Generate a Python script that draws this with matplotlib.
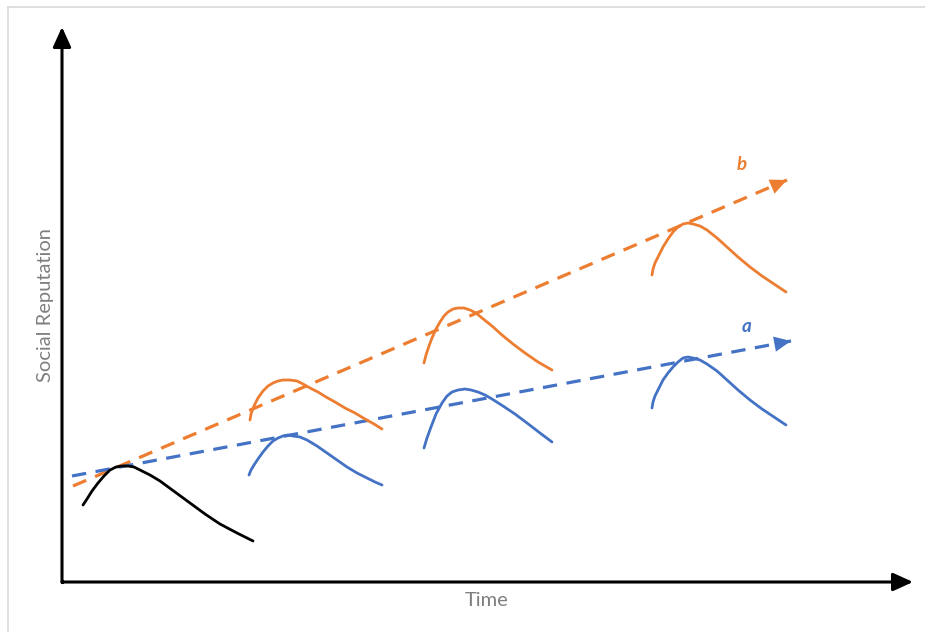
import matplotlib
matplotlib.use("Agg")
import matplotlib.pyplot as plt
from matplotlib.lines import Line2D

# Coordinate system: time to the right, reputation upward (origin = axis corner)
ORIGIN_PX = (62, 582)

def t(px):
    return [p - ORIGIN_PX[0] for p in px]

def r(py):
    return [ORIGIN_PX[1] - p for p in py]

# Initial (black) reputation curve
black_time = t([83, 87, 92, 98, 104, 110, 116, 122, 128, 134, 140, 150, 160, 175, 190, 205, 220, 237, 253])
black_rep = r([505, 499, 491, 483, 476, 470, 467, 466, 466, 467, 470, 475, 481, 492, 503, 514, 524, 533, 541])

# Strategy a (blue) humps
blue1_time = t([249, 251, 254, 258, 263, 268, 273, 278, 283, 288, 293, 300, 307, 317, 327, 337, 347, 357, 367, 375, 382])
blue1_rep = r([475, 470, 465, 459, 452, 446, 441, 438, 436, 435, 436, 437, 440, 446, 453, 460, 467, 473, 478, 482, 485])
blue2_time = t([424, 427, 431, 436, 442, 447, 452, 458, 465, 471, 478, 485, 492, 503, 515, 527, 540, 552])
blue2_rep = r([448, 438, 427, 414, 403, 396, 392, 390, 389, 390, 392, 395, 399, 406, 414, 423, 433, 442])
blue3_time = t([652, 653, 655, 659, 663, 668, 673, 678, 683, 688, 693, 700, 707, 717, 727, 738, 750, 762, 774, 786])
blue3_rep = r([408, 402, 396, 388, 380, 373, 367, 362, 358, 357, 358, 360, 364, 371, 380, 390, 400, 409, 417, 425])

# Strategy b (orange) humps
orange1_time = t([250, 251, 254, 258, 263, 268, 273, 278, 283, 290, 297, 303, 310, 318, 326, 335, 345, 355, 365, 374, 382])
orange1_rep = r([420, 414, 406, 398, 391, 386, 383, 381, 380, 380, 381, 384, 388, 392, 397, 402, 408, 413, 419, 424, 429])
orange2_time = t([424, 426, 429, 432, 436, 440, 444, 448, 453, 458, 464, 470, 476, 482, 492, 502, 513, 525, 538, 552])
orange2_rep = r([363, 355, 346, 338, 329, 322, 316, 312, 309, 308, 308, 310, 313, 318, 326, 335, 344, 353, 362, 370])
orange3_time = t([652, 653, 655, 659, 663, 668, 673, 678, 683, 688, 693, 700, 707, 717, 727, 738, 750, 762, 774, 786])
orange3_rep = r([275, 269, 263, 255, 247, 239, 232, 227, 224, 223, 224, 226, 230, 238, 247, 257, 267, 276, 284, 292])

# Trend lines (start, arrow tip)
trend_a_time = t([72, 791])
trend_a_rep = r([476, 341])
trend_b_time = t([73, 787])
trend_b_rep = r([486, 180])

labels = {"a": (t([747])[0], r([327])[0]), "b": (t([742])[0], r([164])[0])}

BLUE = "#4472C4"
ORANGE = "#ED7D31"

fig = plt.figure(figsize=(9.25, 6.32), dpi=100)
ax = fig.add_axes([0, 0, 1, 1])
ax.set_xlim(-ORIGIN_PX[0], 925 - ORIGIN_PX[0])
ax.set_ylim(ORIGIN_PX[1] - 632, ORIGIN_PX[1])
ax.axis("off")

# light frame
fig.add_artist(Line2D([8 / 925, 8 / 925], [0, 1 - 7 / 632], transform=fig.transFigure,
                      color="#d9d9d9", lw=1.2))
fig.add_artist(Line2D([8 / 925, 1], [1 - 7 / 632, 1 - 7 / 632], transform=fig.transFigure,
                      color="#d9d9d9", lw=1.2))

# axes with arrows
arrow_kw = dict(arrowstyle="-|>,head_length=1.1,head_width=0.5", color="black", lw=2.2,
                shrinkA=0, shrinkB=0, mutation_scale=11)
ax.annotate("", xy=(0, 582 - 27), xytext=(0, 0), arrowprops=arrow_kw)
ax.annotate("", xy=(913 - 62, 0), xytext=(0, 0), arrowprops=arrow_kw)
ax.plot([0, 0], [0, 1], color="black", lw=2.2, solid_capstyle="projecting")

# trend lines
for tt, rr, c in [(trend_b_time, trend_b_rep, ORANGE), (trend_a_time, trend_a_rep, BLUE)]:
    ax.plot(tt, rr, color=c, lw=2.3, dashes=(4.5, 3.0))
    ax.annotate("", xy=(tt[1], rr[1]),
                xytext=(tt[1] - (tt[1] - tt[0]) * 0.02, rr[1] - (rr[1] - rr[0]) * 0.02),
                arrowprops=dict(arrowstyle="-|>,head_length=1.1,head_width=0.5", color=c, lw=0,
                                shrinkA=0, shrinkB=0, mutation_scale=11))

curve_kw = dict(lw=2.0, solid_capstyle="round", solid_joinstyle="round")
ax.plot(black_time, black_rep, color="black", **curve_kw)
for tt, rr in [(blue1_time, blue1_rep), (blue2_time, blue2_rep), (blue3_time, blue3_rep)]:
    ax.plot(tt, rr, color=BLUE, **curve_kw)
for tt, rr in [(orange1_time, orange1_rep), (orange2_time, orange2_rep), (orange3_time, orange3_rep)]:
    ax.plot(tt, rr, color=ORANGE, **curve_kw)

ax.text(*labels["a"], "a", color=BLUE, fontsize=13.5, fontstyle="italic", fontweight="bold",
        family="Lato", ha="center", va="center")
ax.text(*labels["b"], "b", color=ORANGE, fontsize=13.5, fontstyle="italic", fontweight="bold",
        family="Lato", ha="center", va="center")

ax.text(46 - 62, 582 - 305, "Social Reputation", rotation=90, color="#7f7f7f", fontsize=14.5,
        family="Lato", ha="center", va="center")
ax.text(487 - 62, 582 - 601, "Time", color="#7f7f7f", fontsize=14.5, family="Lato",
        ha="center", va="center")

fig.savefig("out.png", dpi=100)
